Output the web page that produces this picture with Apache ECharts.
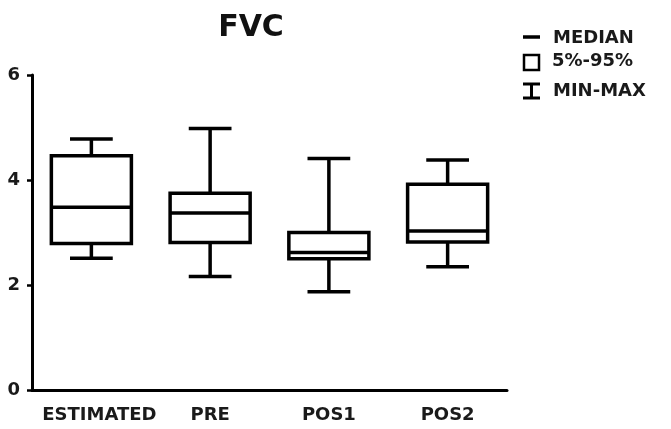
<!DOCTYPE html>
<html>
<head>
<meta charset="utf-8">
<script src="https://cdn.jsdelivr.net/npm/echarts@6/dist/echarts.min.js"></script>
<style>
  html, body { margin: 0; padding: 0; background: #fff; }
  #chart { width: 671px; height: 429px; }
</style>
</head>
<body>
<div id="chart"></div>
<script>
const categories = ['ESTIMATED', 'PRE', 'POS1', 'POS2']
const mins = [2.51, 2.16, 1.87, 2.35]
const q1s = [2.79, 2.81, 2.50, 2.82]
const medians = [3.48, 3.37, 2.62, 3.03]
const q3s = [4.46, 3.75, 3.00, 3.92]
const maxs = [4.78, 4.98, 4.41, 4.38]
const yTicks = [0, 2, 4, 6]

const FONT = '"DejaVu Sans", sans-serif'
const LW = 3.5

const chart = echarts.init(document.getElementById('chart'))

function renderBox(params, api) {
  const i = api.value(0)
  const band = api.size([1, 0])[0]
  const half = band * 0.337
  const capHalf = band * 0.18
  const pMin = api.coord([i, api.value(1)])
  const pQ1 = api.coord([i, api.value(2)])
  const pMed = api.coord([i, api.value(3)])
  const pQ3 = api.coord([i, api.value(4)])
  const pMax = api.coord([i, api.value(5)])
  const x = pMed[0]
  const style = { stroke: '#000', fill: null, lineWidth: LW }
  return {
    type: 'group',
    children: [
      { type: 'line', shape: { x1: x, y1: pMax[1], x2: x, y2: pQ3[1] }, style },
      { type: 'line', shape: { x1: x, y1: pQ1[1], x2: x, y2: pMin[1] }, style },
      { type: 'line', shape: { x1: x - capHalf, y1: pMax[1], x2: x + capHalf, y2: pMax[1] }, style },
      { type: 'line', shape: { x1: x - capHalf, y1: pMin[1], x2: x + capHalf, y2: pMin[1] }, style },
      {
        type: 'rect',
        shape: { x: x - half, y: pQ3[1], width: half * 2, height: pQ1[1] - pQ3[1] },
        style: { stroke: '#000', fill: '#fff', lineWidth: LW }
      },
      { type: 'line', shape: { x1: x - half, y1: pMed[1], x2: x + half, y2: pMed[1] }, style }
    ]
  }
}

const legendX = 523
const option = {
  animation: false,
  title: {
    text: 'FVC',
    left: 246,
    top: 8,
    textAlign: 'center',
    textStyle: { fontFamily: FONT, fontWeight: 'bold', fontSize: 30, color: '#111' }
  },
  grid: { left: 32, right: 164, top: 75, bottom: 39 },
  xAxis: {
    type: 'category',
    data: categories,
    axisLine: { lineStyle: { color: '#000', width: 3 } },
    axisTick: { alignWithLabel: true, length: 7, lineStyle: { color: '#000', width: 2.5 } },
    axisLabel: {
      interval: 0,
      margin: 16,
      fontFamily: FONT,
      fontWeight: 'bold',
      fontSize: 18,
      color: '#1a1a1a',
      // first label sits a little right of its tick in the original
      formatter: (v, i) => (i === 0 ? '{first|' + v + '}' : v),
      rich: {
        first: { padding: [0, 0, 0, 16], fontFamily: FONT, fontWeight: 'bold', fontSize: 18, color: '#1a1a1a' }
      }
    }
  },
  yAxis: {
    type: 'value',
    min: yTicks[0],
    max: yTicks[yTicks.length - 1],
    interval: 2,
    splitLine: { show: false },
    axisLine: { show: true, lineStyle: { color: '#000', width: 3 } },
    axisTick: { show: true, length: 5, lineStyle: { color: '#000', width: 2.5 } },
    axisLabel: { margin: 12, fontFamily: FONT, fontWeight: 'bold', fontSize: 18, color: '#1a1a1a' }
  },
  series: [{
    type: 'custom',
    renderItem: renderBox,
    encode: { x: 0, y: [1, 2, 3, 4, 5] },
    data: categories.map((c, i) => [i, mins[i], q1s[i], medians[i], q3s[i], maxs[i]])
  }],
  graphic: [
    { type: 'line', shape: { x1: legendX, y1: 37, x2: legendX + 17, y2: 37 }, style: { stroke: '#000', lineWidth: 3.5 } },
    { type: 'rect', shape: { x: legendX + 1, y: 55, width: 15, height: 15 }, style: { stroke: '#000', fill: '#fff', lineWidth: 2.5 } },
    { type: 'line', shape: { x1: legendX, y1: 84, x2: legendX + 17, y2: 84 }, style: { stroke: '#000', lineWidth: 3 } },
    { type: 'line', shape: { x1: legendX, y1: 98, x2: legendX + 17, y2: 98 }, style: { stroke: '#000', lineWidth: 3 } },
    { type: 'line', shape: { x1: legendX + 8.5, y1: 84, x2: legendX + 8.5, y2: 98 }, style: { stroke: '#000', lineWidth: 3 } },
    { type: 'text', x: 553, y: 38, style: { text: 'MEDIAN', font: 'bold 18px ' + FONT, fill: '#1a1a1a', verticalAlign: 'middle' } },
    { type: 'text', x: 552, y: 61, style: { text: '5%-95%', font: 'bold 18px ' + FONT, fill: '#1a1a1a', verticalAlign: 'middle' } },
    { type: 'text', x: 553, y: 91, style: { text: 'MIN-MAX', font: 'bold 18px ' + FONT, fill: '#1a1a1a', verticalAlign: 'middle' } }
  ]
}

chart.setOption(option)
</script>
</body>
</html>
